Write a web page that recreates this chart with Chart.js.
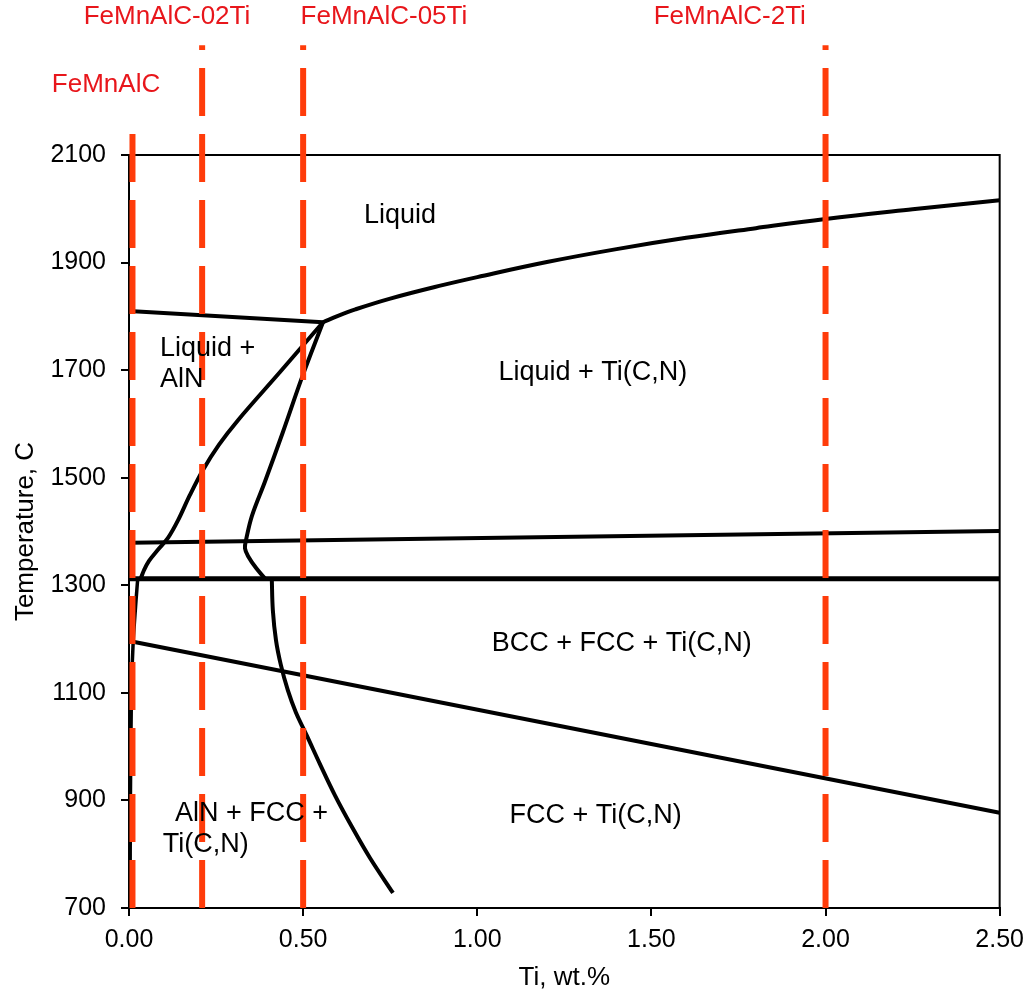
<!DOCTYPE html>
<html>
<head>
<meta charset="utf-8">
<script src="https://cdn.jsdelivr.net/npm/chart.js@4/dist/chart.umd.min.js"></script>
<style>
  html, body { margin: 0; padding: 0; background: #fff; }
  #wrap { width: 1033px; height: 995px; }
</style>
</head>
<body>
<div id="wrap"><canvas id="phaseChart" width="1033" height="995"></canvas></div>
<script>
// Alloys marked with red dashed lines (Ti, wt.%)
const alloyNames = ['FeMnAlC', 'FeMnAlC-02Ti', 'FeMnAlC-05Ti', 'FeMnAlC-2Ti'];
const alloyTi = [0.01, 0.21, 0.5, 2.0];
const alloyLineTop = [2146, 2304, 2304, 2304];

// Phase boundaries as [Ti wt.%, temperature C]
const liquidusTiCN = [[0.557, 1789], [0.6, 1801], [0.65, 1813], [0.75, 1833], [0.9, 1858], [1.0, 1873],
  [1.2, 1901], [1.4, 1925], [1.6, 1946], [1.8, 1964], [2.0, 1981], [2.25, 1999], [2.5, 2016]];
const liquidusAlN = [[0, 1810], [0.557, 1789]];
const alnBoundary = [[0.557, 1789], [0.433, 1696], [0.313, 1607], [0.258, 1561], [0.212, 1514], [0.175, 1468],
  [0.141, 1421], [0.112, 1388], [0.083, 1366], [0.057, 1345], [0.043, 1328], [0.034, 1313]];
const tiCNBoundary = [[0.557, 1789], [0.497, 1687], [0.442, 1585], [0.39, 1492], [0.353, 1429], [0.336, 1384],
  [0.333, 1369], [0.342, 1354], [0.365, 1332], [0.39, 1313]];
const lowerBoundary = [[0.41, 1312], [0.413, 1254], [0.422, 1198], [0.436, 1152], [0.456, 1105], [0.479, 1064],
  [0.511, 1020], [0.548, 968], [0.591, 910], [0.64, 851], [0.692, 793], [0.758, 728]];
const leftBoundary = [[0.025, 1312], [0.02, 1270], [0.012, 1195], [0.007, 1100], [0.004, 900], [0.003, 700]];
const line1380 = [[0.005, 1379], [2.5, 1401]];
const line1312 = [[0, 1312], [2.5, 1312]];
const bccLine = [[0.012, 1195], [2.5, 877]];

const regionNames = [['Liquid'], ['Liquid +', 'AlN'], ['Liquid + Ti(C,N)'], ['BCC + FCC + Ti(C,N)'],
  ['AlN + FCC +', 'Ti(C,N)'], ['FCC + Ti(C,N)']];

// label placement (plot units) - kept apart from the data
const regionPlace = [
  { x: 0.778, y: 1988, align: 'center' },
  { x: 0.089, y: 1741, align: 'left' },
  { x: 1.332, y: 1695, align: 'center' },
  { x: 1.415, y: 1191, align: 'center' },
  { x: 0.132, y: 875, align: 'left', shift: -0.035 },
  { x: 1.34, y: 871, align: 'center' }
];
const alloyLabelPlace = [[-0.066, 2230], [0.109, 2357], [0.732, 2357], [1.725, 2357]];

const FONT = '"Liberation Sans", Arial, sans-serif';
const RED_LINE = '#ff3c0a';
const RED_TEXT = '#e8161b';

function curve(points, width, tension) {
  return {
    data: points.map(p => ({ x: p[0], y: p[1] })),
    borderColor: '#000',
    borderWidth: width,
    showLine: true,
    pointRadius: 0,
    tension: tension || 0
  };
}

const datasets = alloyTi.map((ti, i) => ({
  data: [{ x: ti, y: 700 }, { x: ti, y: alloyLineTop[i] }],
  borderColor: RED_LINE,
  borderWidth: 6,
  borderDash: [48, 18],
  showLine: true,
  pointRadius: 0,
  clip: false
}));
datasets.push(
  curve(liquidusTiCN, 4, 0.4),
  curve(liquidusAlN, 4),
  curve(alnBoundary, 4, 0.35),
  curve(tiCNBoundary, 4, 0.35),
  curve(lowerBoundary, 4, 0.35),
  curve(leftBoundary, 3.5, 0.2),
  curve(line1380, 4),
  curve(line1312, 5),
  curve(bccLine, 4)
);

// top and right edges of the plot box
const framePlugin = {
  id: 'frame',
  beforeDatasetsDraw(chart) {
    const { ctx, chartArea: a } = chart;
    ctx.save();
    ctx.strokeStyle = '#000';
    ctx.lineWidth = 2;
    ctx.beginPath();
    ctx.moveTo(a.left, a.top);
    ctx.lineTo(a.right, a.top);
    ctx.lineTo(a.right, a.bottom);
    ctx.stroke();
    ctx.restore();
  }
};

const textPlugin = {
  id: 'texts',
  afterDatasetsDraw(chart) {
    const { ctx, scales: { x, y } } = chart;
    ctx.save();
    ctx.font = '27px ' + FONT;
    ctx.textBaseline = 'middle';
    ctx.fillStyle = '#000';
    regionNames.forEach((lines, i) => {
      const p = regionPlace[i];
      ctx.textAlign = p.align;
      lines.forEach((txt, k) => {
        const dx = p.shift && k > 0 ? p.shift : 0;
        ctx.fillText(txt, x.getPixelForValue(p.x + dx), y.getPixelForValue(p.y) + k * 31);
      });
    });
    ctx.font = '26px ' + FONT;
    ctx.fillStyle = RED_TEXT;
    ctx.textAlign = 'center';
    alloyNames.forEach((name, i) => {
      const p = alloyLabelPlace[i];
      ctx.fillText(name, x.getPixelForValue(p[0]), y.getPixelForValue(p[1]));
    });
    ctx.restore();
  }
};

new Chart(document.getElementById('phaseChart').getContext('2d'), {
  type: 'scatter',
  data: { datasets },
  options: {
    responsive: false,
    devicePixelRatio: 1,
    animation: false,
    layout: { padding: { top: 155, right: 33, left: 0, bottom: 0 } },
    plugins: { legend: { display: false }, tooltip: { enabled: false } },
    scales: {
      x: {
        type: 'linear',
        min: 0,
        max: 2.5,
        border: { color: '#000', width: 2 },
        grid: { drawOnChartArea: false, drawTicks: true, tickLength: 8, color: '#000', lineWidth: 2 },
        ticks: { stepSize: 0.5, padding: 9, maxRotation: 0, color: '#000', font: { size: 25, family: FONT },
          callback: v => v.toFixed(2) },
        title: { display: true, text: 'Ti, wt.%', color: '#000', font: { size: 26, family: FONT },
          padding: { top: 0, bottom: 2 } },
        afterFit: s => { s.height = 87; }
      },
      y: {
        min: 700,
        max: 2100,
        border: { color: '#000', width: 2 },
        grid: { drawOnChartArea: false, drawTicks: true, tickLength: 8, color: '#000', lineWidth: 2 },
        ticks: { stepSize: 200, padding: 15, color: '#000', font: { size: 25, family: FONT },
          callback: v => String(v) },
        title: { display: true, text: 'Temperature, C', color: '#000', font: { size: 26, family: FONT },
          padding: { top: 10, bottom: 0 } },
        afterFit: s => { s.width = 129; }
      }
    }
  },
  plugins: [framePlugin, textPlugin]
});
</script>
</body>
</html>
